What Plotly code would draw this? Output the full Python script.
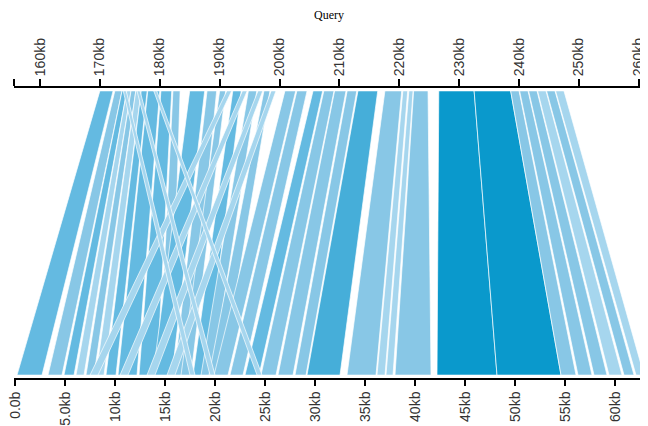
import plotly.graph_objects as go
from plotly.colors import sample_colorscale

# ---- data: alignment blocks (query kb on top, reference kb at bottom) ----
q_start = [170.0, 172.5, 173.7, 174.5, 175.2, 176.0, 176.9, 178.0, 180.2, 182.2,
           185.0, 187.9,
           190.0, 192.2, 194.8, 197.4,
           200.9, 202.9, 205.6, 207.4, 209.2, 211.3, 213.1, 217.6, 220.6, 221.6,
           222.4, 226.6, 232.5, 238.6, 240.1, 241.6, 243.1, 244.6, 246.1,
           191.2, 193.8, 196.4, 198.6, 173.9, 176.2, 179.0]
q_end = [172.2, 173.7, 174.5, 175.2, 176.0, 176.9, 177.9, 180.0, 182.0, 183.4,
         187.5, 189.5,
         191.0, 193.6, 196.2, 198.4,
         202.7, 204.6, 207.2, 209.1, 211.1, 212.9, 216.4, 220.4, 221.4, 222.3,
         224.8, 232.5, 238.6, 240.0, 241.5, 243.0, 244.5, 246.0, 247.5,
         192.0, 194.6, 197.2, 199.4, 174.4, 176.7, 179.5]
r_start = [0.2, 3.3, 4.9, 6.1, 7.1, 8.1, 9.1, 10.3, 12.4, 14.4,
           13.8, 15.9,
           16.6, 17.8, 18.6, 19.4,
           19.9, 21.5, 23.0, 24.6, 26.3, 28.0, 29.2, 33.2, 36.2, 37.1,
           38.0, 42.2, 48.2, 54.6, 56.3, 57.9, 59.4, 60.9, 62.1,
           7.5, 10.5, 13.2, 15.2, 17.5, 19.5, 24.2]
r_end = [2.7, 4.7, 5.9, 6.9, 7.9, 8.9, 10.1, 12.2, 14.2, 15.6,
         15.7, 17.4,
         17.6, 19.1, 19.7, 20.7,
         21.3, 22.8, 24.4, 26.1, 27.8, 29.1, 32.5, 36.1, 37.0, 37.8,
         41.6, 48.2, 54.6, 56.1, 57.7, 59.2, 60.7, 61.9, 62.9,
         8.3, 11.3, 14.0, 16.0, 18.0, 20.0, 24.7]
identity = [90, 87, 90, 84, 87, 84, 90, 90, 90, 87,
            90, 87,
            87, 90, 87, 87,
            87, 87, 90, 87, 87, 87, 93, 87, 84, 84,
            87, 98, 98, 87, 87, 87, 84, 87, 84,
            84, 84, 84, 84, 84, 84, 84]

query_ticks = [160, 170, 180, 190, 200, 210, 220, 230, 240, 250, 260]
query_labels = ["160kb", "170kb", "180kb", "190kb", "200kb", "210kb",
                "220kb", "230kb", "240kb", "250kb", "260kb"]
ref_ticks = [0, 5, 10, 15, 20, 25, 30, 35, 40, 45, 50, 55, 60]
ref_labels = ["0.0b", "5.0kb", "10kb", "15kb", "20kb", "25kb", "30kb",
              "35kb", "40kb", "45kb", "50kb", "55kb", "60kb"]

Q_RANGE = [155.66, 260.7]
R_RANGE = [-0.1, 62.8]

colorscale = [[0.0, "#a6d6ee"], [0.214, "#88c7e6"], [0.4286, "#64bae1"],
              [0.643, "#46aed9"], [1.0, "#0a99cc"]]
ID_MIN, ID_MAX = 84, 98


def q_to_r(q):
    f = (q - Q_RANGE[0]) / (Q_RANGE[1] - Q_RANGE[0])
    return R_RANGE[0] + f * (R_RANGE[1] - R_RANGE[0])


fig = go.Figure()
Y0, Y1 = 0.01, 0.99
for qs, qe, rs, re_, ident in zip(q_start, q_end, r_start, r_end, identity):
    col = sample_colorscale(colorscale, [(ident - ID_MIN) / (ID_MAX - ID_MIN)])[0]
    fig.add_trace(go.Scatter(
        x=[rs, re_, q_to_r(qe), q_to_r(qs), rs],
        y=[Y0, Y0, Y1, Y1, Y0],
        mode="lines", fill="toself", fillcolor=col,
        line=dict(color="rgba(255,255,255,0.85)", width=0.8),
        hoverinfo="skip", showlegend=False, xaxis="x", yaxis="y"))

# invisible trace so the top axis is drawn
fig.add_trace(go.Scatter(x=[Q_RANGE[0]], y=[0.5], mode="markers",
                         marker=dict(opacity=0), xaxis="x2", yaxis="y",
                         hoverinfo="skip", showlegend=False))

tickfont = dict(family="Liberation Sans, Arial, sans-serif", size=14, color="#333")
fig.update_layout(
    width=640, height=418,
    margin=dict(l=6, r=5, t=80, b=48),
    paper_bgcolor="white", plot_bgcolor="white",
    xaxis=dict(range=R_RANGE, showgrid=False, zeroline=False, showline=True,
               linecolor="black", linewidth=2, ticks="outside", ticklen=6,
               tickwidth=1.5, tickcolor="black", tickvals=ref_ticks,
               ticktext=ref_labels, tickangle=-90, tickfont=tickfont,
               ticklabeloverflow="allow",
               automargin=False, fixedrange=True),
    xaxis2=dict(range=Q_RANGE, overlaying="x", side="top", anchor="y",
                showgrid=False, zeroline=False, showline=True,
                linecolor="black", linewidth=2, ticks="outside", ticklen=7,
                tickwidth=1.5, tickcolor="black",
                tickvals=[Q_RANGE[0]] + query_ticks,
                ticktext=[""] + query_labels, tickangle=-90,
                tickfont=tickfont, ticklabeloverflow="allow",
                automargin=False, fixedrange=True),
    yaxis=dict(range=[0, 1], showgrid=False, zeroline=False, showline=False,
               showticklabels=False, ticks="", automargin=False,
               fixedrange=True),
    annotations=[dict(text="Query", x=0.5, xref="paper",
                      y=1 + (88 - 15) / 290, yref="paper",
                      xanchor="center", yanchor="middle", showarrow=False,
                      font=dict(family="Liberation Serif, Times New Roman, serif",
                                size=12, color="black"))],
)

fig.write_html("out.html")
